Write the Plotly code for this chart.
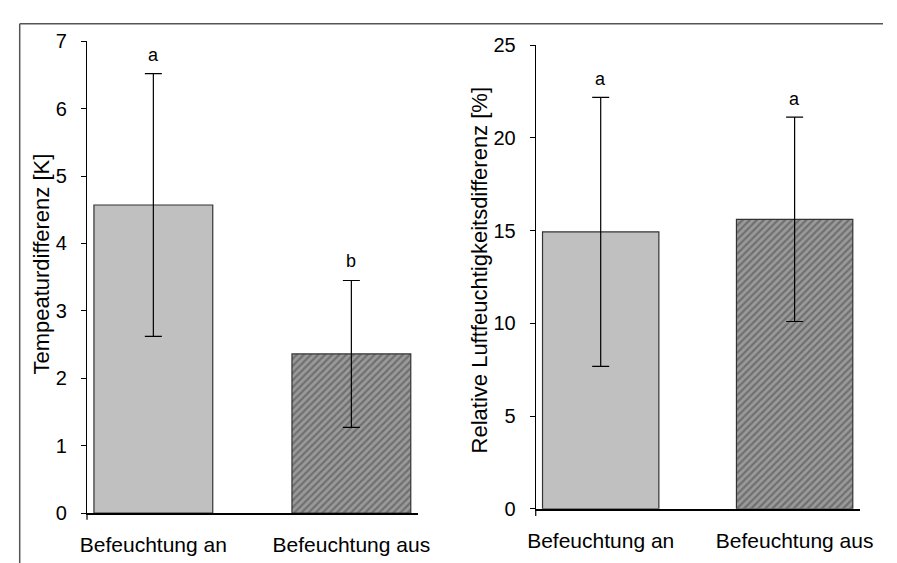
import plotly.graph_objects as go

# Data
categories = ["Befeuchtung an", "Befeuchtung aus"]
temp_mean = [4.57, 2.36]
temp_sd = [1.95, 1.09]
temp_letters = ["a", "b"]
rh_mean = [14.93, 15.61]
rh_sd = [7.25, 5.51]
rh_letters = ["a", "a"]

W, H = 897, 563
PAPER_W, PAPER_H = 897, 555  # drawable paper area used for pixel-to-paper conversion
FONT = "Liberation Sans, Arial, sans-serif"
BAR_COLORS = ["#c0c0c0", "#9a9a9a"]
BAR_PATTERNS = ["", "/"]


def px_x(p):
    return p / PAPER_W


def px_y(p):
    return 1 - p / PAPER_H


fig = go.Figure()

fig.add_trace(go.Bar(
    x=categories, y=temp_mean,
    error_y=dict(type="data", array=temp_sd, color="black", thickness=1.2, width=8.5),
    marker=dict(color=BAR_COLORS, line=dict(color="#333333", width=1.2),
                pattern=dict(shape=BAR_PATTERNS, fgcolor="black", fillmode="overlay",
                             size=5, solidity=0.45)),
    width=0.6, xaxis="x", yaxis="y", showlegend=False,
))
fig.add_trace(go.Bar(
    x=categories, y=rh_mean,
    error_y=dict(type="data", array=rh_sd, color="black", thickness=1.2, width=8.5),
    marker=dict(color=BAR_COLORS, line=dict(color="#333333", width=1.2),
                pattern=dict(shape=BAR_PATTERNS, fgcolor="black", fillmode="overlay",
                             size=5, solidity=0.45)),
    width=0.6, xaxis="x2", yaxis="y2", showlegend=False,
))

xcommon = dict(type="category", range=[-0.335, 1.335], showgrid=False, zeroline=False,
               showline=True, linecolor="black", linewidth=2, ticks="",
               ticklabelstandoff=12, tickfont=dict(family=FONT, size=21, color="black"))
ycommon = dict(showgrid=False, zeroline=False, showline=True, linecolor="black",
               linewidth=1.2, ticks="outside", ticklen=5, tickwidth=1.2, tickcolor="black",
               ticklabelstandoff=10, tickfont=dict(family=FONT, size=20, color="black"))

annotations = []
for i, cat in enumerate(categories):
    annotations.append(dict(x=cat, y=temp_mean[i] + temp_sd[i], xref="x", yref="y",
                            text=temp_letters[i], showarrow=False, yanchor="middle",
                            yshift=19, font=dict(family=FONT, size=18, color="black")))
    annotations.append(dict(x=cat, y=rh_mean[i] + rh_sd[i], xref="x2", yref="y2",
                            text=rh_letters[i], showarrow=False, yanchor="middle",
                            yshift=18, font=dict(family=FONT, size=18, color="black")))

annotations.append(dict(x=px_x(34), y=px_y(260), xref="paper", yref="paper",
                        text="Tempeaturdifferenz [K]", textangle=-90, showarrow=False,
                        xanchor="center", yanchor="middle",
                        font=dict(family=FONT, size=22, color="black")))
annotations.append(dict(x=px_x(483), y=px_y(266), xref="paper", yref="paper",
                        text="Relative Luftfeuchtigkeitsdifferenz [%]", textangle=-90,
                        showarrow=False, xanchor="center", yanchor="middle",
                        font=dict(family=FONT, size=22, color="black")))

frame = dict(color="#555555", width=1.5)
shapes = [
    # chart frame: top and left edges
    dict(type="line", xref="paper", yref="paper", x0=px_x(12), x1=1.0,
         y0=px_y(13), y1=px_y(13), line=frame, layer="below"),
    dict(type="line", xref="paper", yref="paper", x0=px_x(12), x1=px_x(12),
         y0=-0.05, y1=px_y(13), line=frame, layer="below"),
    # y-axis stubs below the category axis
    dict(type="line", xref="paper", yref="paper", x0=px_x(81), x1=px_x(81),
         y0=px_y(515), y1=px_y(522), line=dict(color="black", width=1.2)),
    dict(type="line", xref="paper", yref="paper", x0=px_x(541), x1=px_x(541),
         y0=px_y(511), y1=px_y(518), line=dict(color="black", width=1.2)),
]

fig.update_layout(
    width=W, height=H,
    margin=dict(l=0, r=0, t=0, b=0),
    paper_bgcolor="white", plot_bgcolor="rgba(0,0,0,0)",
    barmode="overlay",
    xaxis=dict(domain=[px_x(81), px_x(420)], anchor="y", **xcommon),
    yaxis=dict(domain=[px_y(515), px_y(31)], anchor="x", range=[0, 7], dtick=1, **ycommon),
    xaxis2=dict(domain=[px_x(541), px_x(873)], anchor="y2", **xcommon),
    yaxis2=dict(domain=[px_y(510.7), px_y(35)], anchor="x2", range=[0, 25], dtick=5, **ycommon),
    annotations=annotations,
    shapes=shapes,
)

fig.write_html("out.html")
